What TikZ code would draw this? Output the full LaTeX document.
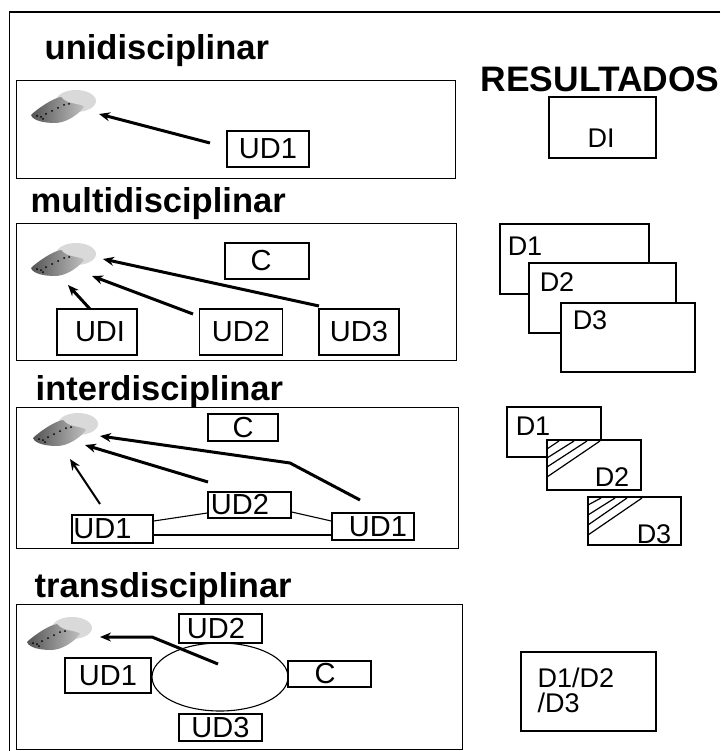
\documentclass[tikz,border=0pt]{standalone}
\usepackage{fontspec}
\setmainfont{Liberation Sans}
\usetikzlibrary{arrows.meta}
\usetikzlibrary{shapes.geometric}
\definecolor{blobdark}{gray}{0.33}
\definecolor{bloblight}{gray}{0.85}

\begin{document}
\begin{tikzpicture}[x=1pt, y=-1pt, line width=1.4pt,
    main/.style = {draw, fill=white, inner sep=0pt, font=\fontsize{29}{29}\selectfont},
    panel/.style = {draw, inner sep=0pt, anchor=north west},
    heading/.style = {inner sep=0pt, anchor=base west, font=\fontsize{34.5}{34.5}\selectfont\bfseries},
    result/.style = {inner sep=0pt, font=\fontsize{27}{27}\selectfont},
    goal/.style = {-{Stealth[length=11pt, width=9pt]}, line width=3pt},
    link/.style = {line width=1.1pt},
    hatch/.style = {line width=1.2pt},
    blob/.pic = {
      \fill[bloblight] (47,11) ellipse [x radius=20, y radius=11];
      \shade[left color=blobdark, right color=gray!50] (2,25) .. controls (8,19) and (24,8) .. (32,7)
        .. controls (38,15) and (52,13) .. (55,17) .. controls (48,26) and (36,33) .. (26,33)
        .. controls (16,33) and (4,31) .. (2,25) -- cycle;
      \foreach \dotx/\doty in {8/26, 12/27, 17/24, 23/21, 29/18, 35/15, 40/14, 14/29}
        \fill[black] (\dotx,\doty) circle [radius=1];
    }]
    \useasboundingbox (0,0) rectangle (720,751);
    \fill[white] (0,0) rectangle (720,751);

    % Frame
    \coordinate (framea) at (720,12);
    \coordinate (frameb) at (9.5,12);
    \coordinate (framec) at (9.5,751);
    \draw (framea) -- (frameb) -- (framec);

    % Panels
    \node[panel, minimum width=439, minimum height=98] (uni) at (16,80) {};
    \node[panel, minimum width=440, minimum height=137] (multi) at (16,223) {};
    \node[panel, minimum width=442, minimum height=141] (inter) at (16,407) {};
    \node[panel, minimum width=446, minimum height=145] (trans) at (16,604) {};

    % Headings
    \node[heading] (tuni) at (44,60) {unidisciplinar};
    \node[heading] (tmulti) at (30,213) {multidisciplinar};
    \node[heading] (tinter) at (35,400) {interdisciplinar};
    \node[heading] (ttrans) at (34,597) {transdisciplinar};
    \node[heading, font=\fontsize{35.4}{35.4}\selectfont\bfseries] (tres) at (480,92) {RESULTADOS};

    % Blobs
    \pic at (29,90) {blob};
    \pic at (29,243) {blob};
    \pic at (31,413) {blob};
    \pic at (25,617) {blob};

    % unidisciplinar
    \node[main, minimum width=82, minimum height=36] (ua) at (268,149) {UD1};
    \coordinate (ustart) at (210,143);
    \coordinate (uend) at (99,114);
    \draw[goal] (ustart) -- (uend);

    % multidisciplinar
    \node[main, minimum width=84, minimum height=36] (mc) at (267,261) {C\hspace*{12pt}};
    \node[main, minimum width=80, minimum height=46] (ma) at (97,332) {\hspace*{6pt}UDI};
    \node[main, minimum width=83, minimum height=46] (mb) at (241,332) {UD2};
    \node[main, minimum width=80, minimum height=46] (md) at (359,332) {UD3};
    \coordinate (mastart) at (90,309);
    \coordinate (maend) at (68,285);
    \coordinate (mbstart) at (193,314);
    \coordinate (mbend) at (92,276);
    \coordinate (mdstart) at (319,306);
    \coordinate (mdend) at (103,259);
    \draw[goal] (mastart) -- (maend);
    \draw[goal] (mbstart) -- (mbend);
    \draw[goal] (mdstart) -- (mdend);

    % interdisciplinar
    \node[main, minimum width=70, minimum height=27] (ic) at (243,427.5) {C};
    \node[main, minimum width=83, minimum height=26] (ib) at (249.5,505) {UD2\hspace*{19pt}};
    \node[main, minimum width=81, minimum height=28] (ia) at (112.5,529) {UD1\hspace*{20pt}};
    \node[main, minimum width=82, minimum height=27] (id) at (373,526.5) {\hspace*{10pt}UD1};
    \draw[link] (ia.east |- 0,521) -- (ib.west |- 0,513);
    \draw[link] (ib.east |- 0,512) -- (id.west |- 0,521);
    \draw[link] (ia.east |- 0,535) -- (id.west |- 0,535);
    \coordinate (iastart) at (100,504);
    \coordinate (iaend) at (70,459);
    \coordinate (ibstart) at (208,482);
    \coordinate (ibend) at (85,445);
    \coordinate (idstart) at (360,500);
    \coordinate (idbend) at (290,463);
    \coordinate (idend) at (100,436);
    \draw[goal, line width=2pt] (iastart) -- (iaend);
    \draw[goal] (ibstart) -- (ibend);
    \draw[goal] (idstart) -- (idbend) -- (idend);

    % transdisciplinar
    \node[draw, ellipse, minimum width=136, minimum height=68, inner sep=0pt, link] (tcore) at (220,677) {};
    \node[main, minimum width=83, minimum height=29] (tb) at (220.5,628.5) {UD2\hspace*{9pt}};
    \node[main, minimum width=86, minimum height=35] (ta) at (108,675.5) {UD1};
    \node[main, minimum width=83, minimum height=26] (tc) at (329.5,674) {C\hspace*{9pt}};
    \node[main, minimum width=83, minimum height=27] (td) at (220.5,727.5) {UD3};
    \coordinate (tstart) at (218,664);
    \coordinate (tbend) at (152,637);
    \coordinate (tend) at (100,637);
    \draw[goal] (tstart) -- (tbend) -- (tend);

    % Results
    \node[main, result, minimum width=107, minimum height=61] (rdi) at (602.5,127.5) {};
    \node[result] (ldi) at (601,138) {DI};

    \node[main, result, minimum width=149, minimum height=70] (ra) at (574.5,259) {};
    \node[main, result, minimum width=147, minimum height=70] (rb) at (602.5,298) {};
    \node[main, result, minimum width=134, minimum height=69] (rc) at (628,337.5) {};
    \node[result] (la) at (525,246) {D1};
    \node[result] (lb) at (557,282) {D2};
    \node[result] (lc) at (590,320) {D3};

    \node[main, result, minimum width=94, minimum height=50] (ha) at (554,432) {};
    \node[main, result, minimum width=94, minimum height=50] (hb) at (594,465) {};
    \node[main, result, minimum width=93, minimum height=48] (hc) at (634.5,521) {};
    \node[result] (lha) at (533,426) {D1};
    \node[result] (lhb) at (612,477) {D2};
    \node[result] (lhc) at (654,534) {D3};
    \foreach \ya/\xa in {449/559, 458/574, 467/587, 477/600}
      \draw[hatch] (547,\ya) -- (\xa,441);
    \foreach \ya/\xa in {505/601, 515/615, 525/627, 535/642}
      \draw[hatch] (588,\ya) -- (\xa,498);

    \node[main, result, minimum width=135, minimum height=79] (rall) at (588.5,691.5) {};
    \node[result, anchor=base west] (lalla) at (537,687) {D1/D2};
    \node[result, anchor=base west] (lallb) at (537,712) {/D3};

\end{tikzpicture}
\end{document}
